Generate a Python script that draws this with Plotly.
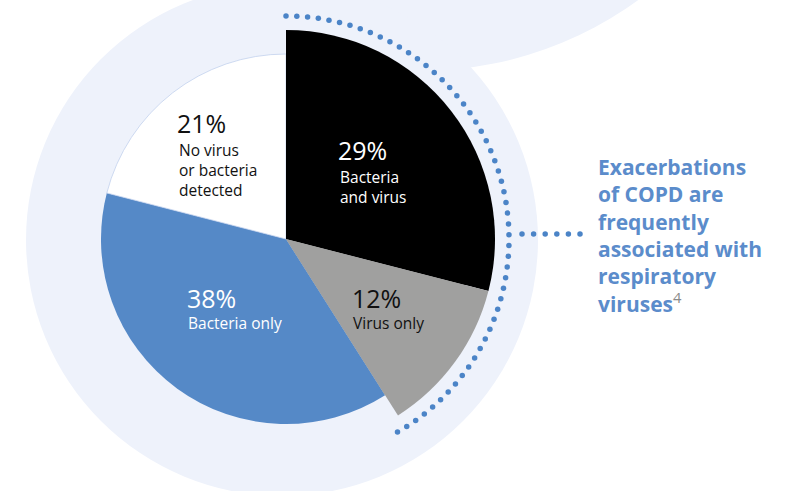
import numpy as np
import plotly.graph_objects as go

# ---- data ----
categories = ["Bacteria and virus", "Virus only", "Bacteria only", "No virus or bacteria detected"]
values = [29, 12, 38, 21]
label_lines = [["Bacteria", "and virus"], ["Virus only"], ["Bacteria only"], ["No virus", "or bacteria", "detected"]]
slice_colors = ["#000000", "#A0A09F", "#5589C7", "#FFFFFF"]
label_colors = ["#FFFFFF", "#111111", "#FFFFFF", "#111111"]
highlight = [True, True, False, False]   # slices drawn with the larger radius
callout_lines = ["Exacerbations", "of COPD are", "frequently", "associated with", "respiratory", "viruses"]

W, H = 795, 491
CX, CY = 286, 239
R_BIG, R_SMALL = 209, 185
LAV = "#EEF2FB"
DOT = "#4B84C7"
TXT_BLUE = "#5B8CCB"

def dom(r):
    return dict(x=[(CX - r) / W, (CX + r) / W], y=[(H - CY - r) / H, (H - CY + r) / H])

fig = go.Figure()

# small pie with all slices
fig.add_trace(go.Pie(
    labels=categories, values=values, sort=False, direction="clockwise", rotation=0,
    marker=dict(colors=slice_colors, line=dict(color=["#000000", "#A0A09F", "#5589C7", "#C3D2EE"], width=[0, 0, 0, 0.8])),
    textinfo="none", hoverinfo="skip", showlegend=False, domain=dom(R_SMALL)))

# large pie: only highlighted slices visible
big_colors = [c if h else "rgba(0,0,0,0)" for c, h in zip(slice_colors, highlight)]
fig.add_trace(go.Pie(
    labels=categories, values=values, sort=False, direction="clockwise", rotation=0,
    marker=dict(colors=big_colors, line=dict(width=0)),
    textinfo="none", hoverinfo="skip", showlegend=False, domain=dom(R_BIG)))

# dotted arc (decoration)
R_DOT = 223
ang = np.deg2rad(np.linspace(0, 150, 55))
fig.add_trace(go.Scatter(x=CX + R_DOT * np.sin(ang), y=CY - R_DOT * np.cos(ang), mode="markers",
                         marker=dict(size=5.5, color=DOT), hoverinfo="skip", showlegend=False))
cx_dots = np.linspace(522, 580, 6)
fig.add_trace(go.Scatter(x=cx_dots, y=[234] * len(cx_dots), mode="markers",
                         marker=dict(size=5.5, color=DOT), hoverinfo="skip", showlegend=False))

# label positions (layout)
pct_pos = [(336, 150), (350, 298), (185, 298), (175, 123)]
sub_pos = [(338, 186.5), (351, 323), (186, 323), (177, 170)]
annotations = []
for v, lines, col, (px, py), (sx, sy) in zip(values, label_lines, label_colors, pct_pos, sub_pos):
    annotations.append(dict(x=px, y=py, text=f"{v}%", xanchor="left", yanchor="middle", showarrow=False,
                            font=dict(family="Open Sans", size=25, color=col)))
    annotations.append(dict(x=sx, y=sy, text="<br>".join(lines), xanchor="left", yanchor="middle", align="left",
                            showarrow=False, font=dict(family="Open Sans", size=15.5, color=col)))

callout = "<br>".join(callout_lines[:-1]) + "<br>" + callout_lines[-1] + \
    "<sup><span style='color:#8a8a8a;font-weight:normal'>4</span></sup>"
annotations.append(dict(x=596, y=235, text=callout, xanchor="left", yanchor="middle", align="left",
                        showarrow=False, font=dict(family="Open Sans", size=21, color=TXT_BLUE, weight="bold")))

shapes = [
    dict(type="circle", xref="x", yref="y", x0=420 - 371, x1=420 + 371, y0=-300 - 371, y1=-300 + 371,
         fillcolor=LAV, line=dict(width=0), layer="below"),
    dict(type="circle", xref="x", yref="y", x0=282 - 256, x1=282 + 256, y0=240 - 256, y1=240 + 256,
         fillcolor=LAV, line=dict(width=0), layer="below"),
]

fig.update_layout(
    width=W, height=H, margin=dict(l=0, r=0, t=0, b=0),
    paper_bgcolor="white", plot_bgcolor="white",
    xaxis=dict(range=[0, W], visible=False, fixedrange=True),
    yaxis=dict(range=[H, 0], visible=False, fixedrange=True),
    shapes=shapes, annotations=annotations, showlegend=False,
)

fig.write_html("out.html")
